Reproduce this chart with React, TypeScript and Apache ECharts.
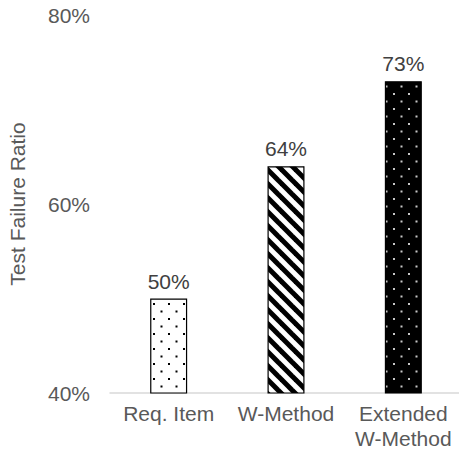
import React, { useEffect, useRef } from "react";
import * as echarts from "echarts";

const categories = ["Req. Item", "W-Method", "Extended\nW-Method"];
const failureRatios = [0.5, 0.64, 0.73];
const yTicks = { min: 0.4, max: 0.8, interval: 0.2 };

function dotTile(bg: string, dot: string): HTMLCanvasElement {
  const c = document.createElement("canvas");
  c.width = 15;
  c.height = 15;
  const g = c.getContext("2d")!;
  g.fillStyle = bg;
  g.fillRect(0, 0, 15, 15);
  g.fillStyle = dot;
  g.fillRect(3, 3, 2, 2);
  g.fillRect(10.5, 10.5, 2, 2);
  return c;
}

function stripeTile(): HTMLCanvasElement {
  const s = 14;
  const c = document.createElement("canvas");
  c.width = s;
  c.height = s;
  const g = c.getContext("2d")!;
  g.fillStyle = "#ffffff";
  g.fillRect(0, 0, s, s);
  g.strokeStyle = "#000000";
  g.lineWidth = 5;
  for (const k of [-s, 0, s]) {
    g.beginPath();
    g.moveTo(k - 3, -3);
    g.lineTo(k + s + 3, s + 3);
    g.stroke();
  }
  return c;
}

function pattern(c: HTMLCanvasElement) {
  return {
    image: c.toDataURL(),
    repeat: "repeat",
    imageWidth: c.width,
    imageHeight: c.height,
  } as any;
}

export default function App() {
  const ref = useRef<HTMLDivElement>(null);

  useEffect(() => {
    const chart = echarts.init(ref.current!, null, { renderer: "svg" });
    const fills = [
      pattern(dotTile("#ffffff", "#000000")),
      pattern(stripeTile()),
      pattern(dotTile("#000000", "#c8c8c8")),
    ];
    const font = "Liberation Sans, Arial, sans-serif";
    chart.setOption({
      animation: false,
      backgroundColor: "#ffffff",
      grid: {
        left: 110,
        right: -3,
        top: 15,
        bottom: 58,
        containLabel: false,
        outerBoundsMode: "none",
      },
      xAxis: {
        type: "category",
        data: categories,
        axisLine: { lineStyle: { color: "#d9d9d9", width: 1.5 } },
        axisTick: { show: false },
        axisLabel: {
          interval: 0,
          color: "#595959",
          fontSize: 21,
          fontFamily: font,
          margin: 8,
          lineHeight: 25,
        },
      },
      yAxis: {
        type: "value",
        min: yTicks.min,
        max: yTicks.max,
        interval: yTicks.interval,
        name: "Test Failure Ratio",
        nameLocation: "middle",
        nameRotate: 90,
        nameGap: 82,
        nameTextStyle: { color: "#595959", fontSize: 21, fontFamily: font },
        axisLine: { show: false },
        axisTick: { show: false },
        splitLine: { show: false },
        axisLabel: {
          color: "#595959",
          fontSize: 21,
          fontFamily: font,
          margin: 20,
          formatter: (v: number) => Math.round(v * 100) + "%",
        },
      },
      series: [
        {
          type: "bar",
          barWidth: 37,
          data: failureRatios.map((v, i) => ({
            value: v,
            itemStyle: {
              color: fills[i],
              borderColor: "#000000",
              borderWidth: 1.2,
            },
          })),
          label: {
            show: true,
            position: "top",
            distance: 7,
            color: "#404040",
            fontSize: 21,
            fontFamily: font,
            formatter: (p: any) => Math.round(p.value * 100) + "%",
          },
        },
      ],
    });
    return () => chart.dispose();
  }, []);

  return (
    <div
      ref={ref}
      style={{ position: "absolute", left: 0, top: 0, width: 459, height: 451 }}
    />
  );
}
